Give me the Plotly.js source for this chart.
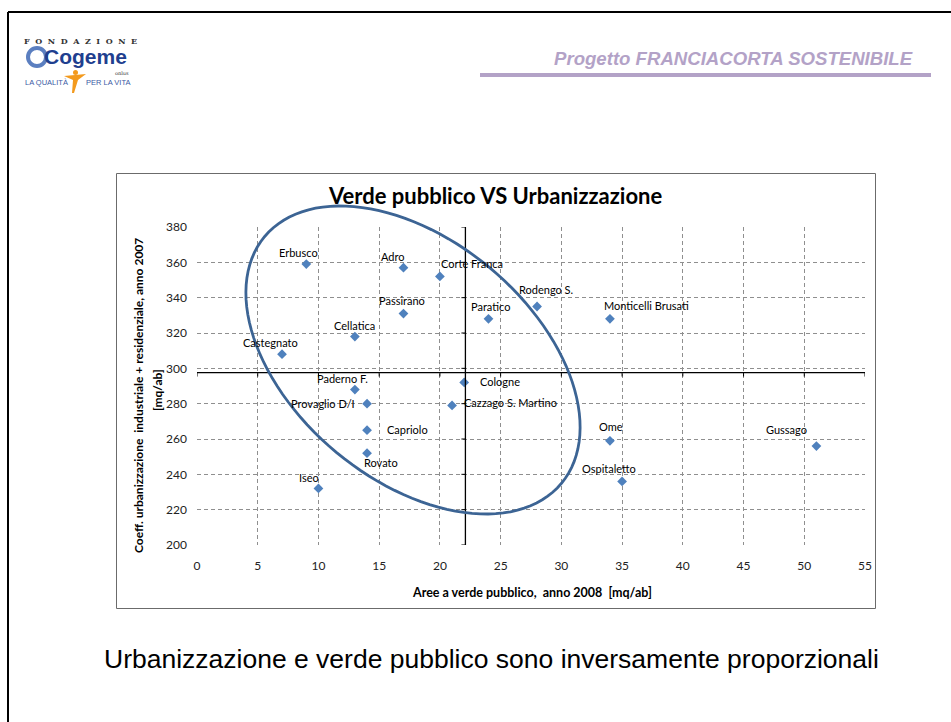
<!DOCTYPE html>
<html>
<head>
<meta charset="utf-8">
<script src="https://cdn.plot.ly/plotly-3.0.1.min.js"></script>
<style>
  html, body { margin: 0; padding: 0; background: #ffffff; }
  #chart { width: 951px; height: 722px; }
</style>
</head>
<body>
<div id="chart"></div>
<script>
// ---------------- DATA ----------------
const towns = ['Erbusco', 'Adro', 'Corte Franca', 'Passirano', 'Paratico', 'Rodengo S.',
  'Monticelli Brusati', 'Cellatica', 'Castegnato', 'Paderno F.', 'Provaglio D/I', 'Capriolo',
  'Rovato', 'Iseo', 'Cologne', 'Cazzago S. Martino', 'Ome', 'Ospitaletto', 'Gussago'];
const verdePubblico = [9.0, 17.0, 20.0, 17.0, 24.0, 28.0, 34.0, 13.0, 7.0, 13.0, 14.0, 14.0,
  14.0, 10.0, 22.0, 21.0, 34.0, 35.0, 51.0];
const urbanizzazione = [359, 357, 352, 331, 328, 335, 328, 318, 308, 288, 280, 265,
  252, 232, 292, 279, 259, 236, 256];
const mediaVerde = 22.1;
const mediaUrban = 297.6;
const xTicks = [0, 5, 10, 15, 20, 25, 30, 35, 40, 45, 50, 55];
const yTicks = [200, 220, 240, 260, 280, 300, 320, 340, 360, 380];

// ---------------- LAYOUT HELPERS (styling only) ----------------
const W = 951, H = 722;
const PL = 197, PR = 865, PT = 227, PB = 545;
const px = X => (X - PL) / (PR - PL);
const py = Y => (PB - Y) / (PB - PT);

// label pixel offsets (dx right, dy down) per town
const labelOffsets = [[-8, -12], [-10, -11], [32, -13], [-1, -13], [2, -12], [9, -17],
  [37, -13], [0, -11], [-12, -12], [-12, -11], [-44, 0], [40, -1],
  [14, 9], [-9, -11], [36, -1], [58, -3], [1, -14], [-13, -13], [-30, -17]];

const chartFont = 'Lato, "Open Sans", sans-serif';
const arial = '"Liberation Sans", Arial, sans-serif';

const trace = {
  type: 'scatter', mode: 'markers',
  x: verdePubblico, y: urbanizzazione, text: towns,
  marker: { symbol: 'diamond', size: 7.5, color: '#4F81BD', line: { width: 0 } },
  hoverinfo: 'text+x+y', cliponaxis: false
};

const annotations = towns.map((t, i) => ({
  x: verdePubblico[i], y: urbanizzazione[i], xref: 'x', yref: 'y',
  text: t, showarrow: false,
  xshift: labelOffsets[i][0], yshift: -labelOffsets[i][1],
  xanchor: 'center', yanchor: 'middle',
  font: { family: chartFont, size: 11, color: '#000000' }
}));

function paperText(text, X, Y, opts) {
  return Object.assign({
    text: text, x: px(X), y: py(Y), xref: 'paper', yref: 'paper',
    showarrow: false, xanchor: 'center', yanchor: 'middle', borderpad: 0
  }, opts);
}

// chart title, axis titles
annotations.push(paperText('<b>Verde pubblico VS Urbanizzazione</b>', 495, 196,
  { font: { family: chartFont, size: 22, color: '#000' } }));
annotations.push(paperText('<b>Coeff. urbanizzazione  industriale + residenziale, anno 2007</b>', 138, 396,
  { textangle: -90, font: { family: chartFont, size: 12, color: '#000' } }));
annotations.push(paperText('<b>[mq/ab]</b>', 157, 390,
  { textangle: -90, font: { family: chartFont, size: 12, color: '#000' } }));
annotations.push(paperText('<b>Aree a verde pubblico,  anno 2008  [mq/ab]</b>', 532, 592,
  { font: { family: chartFont, size: 12.5, color: '#000' } }));

// slide texts
annotations.push(paperText('<b><i>Progetto FRANCIACORTA SOSTENIBILE</i></b>', 733.5, 58,
  { font: { family: arial, size: 18.6, color: '#B3A2C7' } }));
annotations.push(paperText('Urbanizzazione e verde pubblico sono inversamente proporzionali', 491, 659,
  { font: { family: arial, size: 26.5, color: '#000' } }));

// logo
const sp = '\u00A0\u00A0';
annotations.push(paperText('<b>' + 'FONDAZIONE'.split('').join(sp) + '</b>', 80, 41,
  { font: { family: '"DejaVu Serif", serif', size: 8, color: '#333' } }));
annotations.push(paperText('<b>Cogeme</b>', 85, 56,
  { font: { family: arial, size: 21, color: '#1F3F8F' } }));
annotations.push(paperText('onlus', 122, 73,
  { font: { family: '"DejaVu Serif", serif', size: 5, color: '#333' } }));
annotations.push(paperText('LA QUALITÀ', 46, 82,
  { font: { family: '"Liberation Sans Narrow", ' + arial, size: 7.5, color: '#3B5BA5' } }));
annotations.push(paperText('PER LA VITA', 108, 82,
  { font: { family: '"Liberation Sans Narrow", ' + arial, size: 7.5, color: '#3B5BA5' } }));

// ---------------- SHAPES ----------------
const shapes = [];
// slide frame
shapes.push({ type: 'line', xref: 'paper', yref: 'paper', x0: px(8), x1: px(960), y0: py(12), y1: py(12),
  line: { color: '#000', width: 2 } });
shapes.push({ type: 'line', xref: 'paper', yref: 'paper', x0: px(8), x1: px(8), y0: py(12), y1: py(730),
  line: { color: '#000', width: 2 } });
// header underline
shapes.push({ type: 'rect', xref: 'paper', yref: 'paper', x0: px(480), x1: px(931), y0: py(73), y1: py(77),
  fillcolor: '#B3A2C7', line: { width: 0 } });
// chart frame
shapes.push({ type: 'rect', xref: 'paper', yref: 'paper', x0: px(116.5), x1: px(875.5), y0: py(173.5), y1: py(608.5),
  fillcolor: 'rgba(0,0,0,0)', line: { color: '#6b6b6b', width: 1 } });
// logo swirl C and orange figure
shapes.push({ type: 'circle', xref: 'paper', yref: 'paper', x0: px(28), x1: px(46), y0: py(48), y1: py(66),
  fillcolor: 'rgba(0,0,0,0)', line: { color: '#5B7FC0', width: 4 } });
shapes.push({ type: 'circle', xref: 'paper', yref: 'paper', x0: px(73), x1: px(78), y0: py(70), y1: py(75),
  fillcolor: '#F39A1E', line: { width: 0 } });
shapes.push({ type: 'path', xref: 'paper', yref: 'paper',
  path: `M${px(64)},${py(76)} L${px(86)},${py(74)} L${px(78)},${py(80)} L${px(74)},${py(93)} L${px(72)},${py(93)} L${px(73)},${py(80)} Z`,
  fillcolor: '#F39A1E', line: { width: 0 } });

// mean cross lines with ticks
shapes.push({ type: 'line', xref: 'x', yref: 'y', x0: mediaVerde, x1: mediaVerde, y0: 200, y1: 380,
  line: { color: '#000', width: 1.3 } });
shapes.push({ type: 'line', xref: 'x', yref: 'y', x0: 0, x1: 55, y0: mediaUrban, y1: mediaUrban,
  line: { color: '#000', width: 1.3 } });
yTicks.forEach(v => shapes.push({ type: 'line', xref: 'x', yref: 'y', xsizemode: 'pixel', xanchor: mediaVerde,
  x0: -4, x1: 0, y0: v, y1: v, line: { color: '#000', width: 1 } }));
xTicks.forEach(v => shapes.push({ type: 'line', xref: 'x', yref: 'y', ysizemode: 'pixel', yanchor: mediaUrban,
  y0: -4, y1: 0, x0: v, x1: v, line: { color: '#000', width: 1 } }));

// ellipse (pixel geometry -> paper)
(function () {
  const cx = 413, cy = 360, a = 193, b = 120, th = 39.7 * Math.PI / 180;
  let d = '';
  for (let k = 0; k <= 120; k++) {
    const t = 2 * Math.PI * k / 120;
    const X = cx + a * Math.cos(t) * Math.cos(th) - b * Math.sin(t) * Math.sin(th);
    const Y = cy + a * Math.cos(t) * Math.sin(th) + b * Math.sin(t) * Math.cos(th);
    d += (k === 0 ? 'M' : 'L') + px(X).toFixed(5) + ',' + py(Y).toFixed(5) + ' ';
  }
  d += 'Z';
  shapes.push({ type: 'path', xref: 'paper', yref: 'paper', path: d, layer: 'above',
    fillcolor: 'rgba(0,0,0,0)', line: { color: '#3C6494', width: 2.8 } });
})();

const axisCommon = {
  showline: false, zeroline: false, ticks: '',
  showgrid: true, gridcolor: '#8f8f8f', gridwidth: 1, griddash: '4px,3px',
  tickfont: { family: chartFont, size: 12, color: '#222' },
  fixedrange: true
};

const layout = {
  width: W, height: H,
  margin: { l: PL, r: W - PR, t: PT, b: H - PB, pad: 0 },
  paper_bgcolor: '#ffffff', plot_bgcolor: '#ffffff',
  showlegend: false,
  xaxis: Object.assign({}, axisCommon, { range: [0, 55], tickvals: xTicks, ticktext: xTicks.map(String),
    ticklabelstandoff: 12 }),
  yaxis: Object.assign({}, axisCommon, { range: [200, 380], tickvals: yTicks, ticktext: yTicks.map(String),
    ticklabelstandoff: 9 }),
  annotations: annotations,
  shapes: shapes
};

Plotly.newPlot('chart', [trace], layout, { displayModeBar: false, staticPlot: true });
</script>
</body>
</html>
